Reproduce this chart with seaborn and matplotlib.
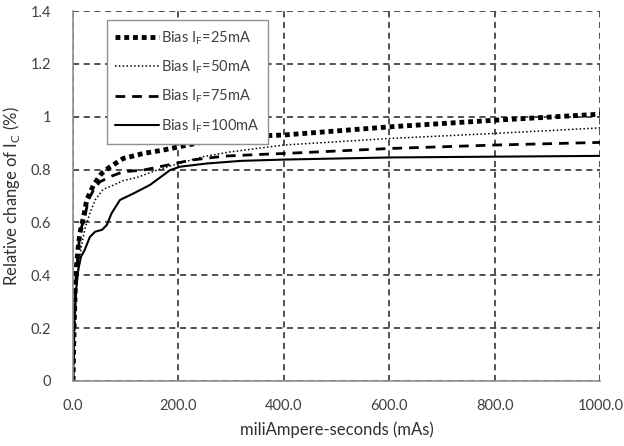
import numpy as np
import pandas as pd
import matplotlib
matplotlib.use('Agg')
import matplotlib.pyplot as plt
import seaborn as sns

# data (mAs vs relative change of Ic in %)
x_25 = [0, 2, 5, 10, 13, 20, 26, 39, 54, 70, 95, 133, 171, 200, 247, 298, 349, 400, 601, 800, 1000]
y_25 = [0, 0.2, 0.4, 0.508, 0.56, 0.62, 0.685, 0.742, 0.785, 0.81, 0.842, 0.861, 0.874, 0.886, 0.905, 0.918, 0.927, 0.931, 0.962, 0.987, 1.01]

x_50 = [0, 3, 8, 15, 23, 32, 42, 57, 73, 95, 124, 159, 200, 247, 298, 349, 400, 601, 800, 1000]
y_50 = [0, 0.2, 0.4, 0.5, 0.58, 0.635, 0.685, 0.725, 0.738, 0.758, 0.772, 0.798, 0.823, 0.849, 0.867, 0.88, 0.893, 0.918, 0.937, 0.958]

x_75 = [0, 2, 6, 13, 23, 29, 39, 51, 73, 95, 133, 179, 224, 287, 349, 400, 601, 800, 1000]
y_75 = [0, 0.2, 0.4, 0.56, 0.628, 0.685, 0.723, 0.754, 0.775, 0.792, 0.798, 0.817, 0.836, 0.851, 0.857, 0.861, 0.88, 0.893, 0.903]

x_100 = [0, 2, 5, 10, 15, 22, 32, 42, 55, 64, 73, 89, 115, 146, 184, 203, 253, 318, 400, 600, 800, 1000]
y_100 = [0, 0.2, 0.33, 0.42, 0.47, 0.495, 0.545, 0.565, 0.572, 0.59, 0.634, 0.685, 0.71, 0.742, 0.798, 0.811, 0.823, 0.833, 0.838, 0.846, 0.849, 0.852]

labels = ['Bias I$_{\\mathregular{F}}$=25mA', 'Bias I$_{\\mathregular{F}}$=50mA',
          'Bias I$_{\\mathregular{F}}$=75mA', 'Bias I$_{\\mathregular{F}}$=100mA']
x_ticks = [0, 200, 400, 600, 800, 1000]
y_ticks = [0, 0.2, 0.4, 0.6, 0.8, 1.0, 1.2, 1.4]

sns.set_style("white")
plt.rcParams['font.family'] = ['Lato', 'DejaVu Sans']
plt.rcParams['mathtext.fontset'] = 'custom'
plt.rcParams['mathtext.rm'] = 'Lato'

fig = plt.figure(figsize=(6.24, 4.46), dpi=100)
ax = fig.add_axes([0.117, 0.146, 0.845, 0.829])

series = [
    (x_25, y_25, dict(linestyle=(0, (1, 0.8)), linewidth=3.5)),
    (x_50, y_50, dict(linestyle=(0, (1, 1.5)), linewidth=1.1)),
    (x_75, y_75, dict(linestyle=(0, (3.5, 2.5)), linewidth=2.0)),
    (x_100, y_100, dict(linestyle='-', linewidth=1.5)),
]
for (xs, ys, kw), lab in zip(series, labels):
    df = pd.DataFrame({'mAs': xs, 'change': ys})
    sns.lineplot(data=df, x='mAs', y='change', ax=ax, color='black', label=lab,
                 sort=False, **kw)

ax.set_xlim(0, 1000)
ax.set_ylim(0, 1.4)
ax.set_xticks(x_ticks)
ax.set_xticklabels([f"{v:.1f}" for v in x_ticks])
ax.set_yticks(y_ticks)
ax.set_yticklabels(['0', '0.2', '0.4', '0.6', '0.8', '1', '1.2', '1.4'])
ax.grid(True, color='#222222', linestyle=(0, (4, 3)), linewidth=1.1)
ax.set_axisbelow(True)

for s in ['top', 'right']:
    ax.spines[s].set_visible(False)
for s in ['left', 'bottom']:
    ax.spines[s].set_color('#909090')
    ax.spines[s].set_linewidth(1.2)

ax.tick_params(axis='both', labelsize=10.5, colors='#404040', length=4, width=1, direction='out')
ax.tick_params(axis='x', pad=9)
ax.tick_params(axis='y', pad=12)

ax.set_xlabel('miliAmpere-seconds (mAs)', fontsize=12, color='#303030', labelpad=6)
ax.set_ylabel('Relative change of I$_{\\mathregular{C}}$ (%)', fontsize=12, color='#303030', labelpad=6)

leg = ax.legend(loc='upper left', bbox_to_anchor=(0.05, 0.995), fontsize=10.5,
                handlelength=3.0, handletextpad=0.1, labelspacing=0.8,
                borderpad=0.6, fancybox=False, framealpha=1, edgecolor='#909090')
for t in leg.get_texts():
    t.set_color('#404040')

plt.savefig('out.png', dpi=100)
plt.close()
